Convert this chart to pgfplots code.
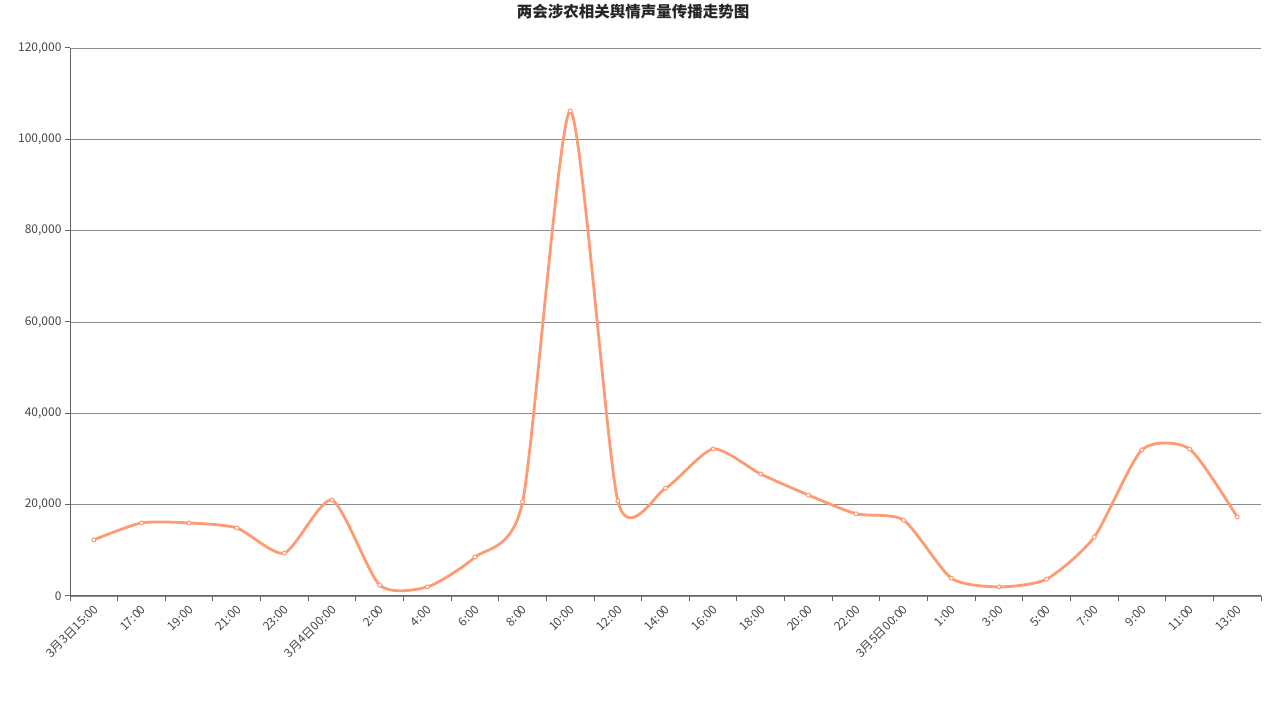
\documentclass[border=0pt]{standalone}
\usepackage{fontspec}
\setmainfont{Noto Sans CJK SC}
\usepackage{pgfplots}
\pgfplotsset{compat=1.18}
\definecolor{linec}{RGB}{255,155,115}
\definecolor{gridc}{RGB}{140,140,140}
\definecolor{axisc}{RGB}{100,100,100}
\definecolor{txt}{RGB}{70,70,70}
\begin{document}
\begin{tikzpicture}[x=1pt,y=1pt]
\useasboundingbox (0,0) rectangle (1266,711);
\node[font=\bfseries\fontsize{15.5}{18}\selectfont, text=black!85] at (633,699) {两会涉农相关舆情声量传播走势图};
\begin{axis}[
  at={(70pt,115pt)}, anchor=south west,
  scale only axis, width=1191pt, height=548pt,
  xmin=-0.5, xmax=24.5, ymin=0, ymax=120000,
  axis lines=left, axis line style={-, draw=axisc, line width=1pt},
  ytick={0,20000,40000,60000,80000,100000,120000},
  yticklabels={0,{20,000},{40,000},{60,000},{80,000},{100,000},{120,000}},
  scaled y ticks=false,
  ymajorgrids, grid style={draw=gridc, line width=0.8pt},
  xtick={0,...,24},
  xticklabels={3月3日15:00,17:00,19:00,21:00,23:00,3月4日00:00,2:00,4:00,6:00,8:00,10:00,12:00,14:00,16:00,18:00,20:00,22:00,3月5日00:00,1:00,3:00,5:00,7:00,9:00,11:00,13:00},
  minor xtick={-0.5,0.5,...,24.5},
  major x tick style={draw=none},
  minor x tick style={draw=axisc, line width=1pt},
  y tick style={draw=axisc, line width=1pt},
  tick align=outside, major tick length=5pt, minor tick length=5pt,
  xticklabel style={rotate=45, anchor=east, inner sep=0pt, xshift=-3pt, yshift=-6pt},
  ticklabel style={font=\fontsize{12}{14}\selectfont, text=txt},
  clip=false,
]
\addplot[color=linec, line width=2.8pt, smooth, tension=0.4,
  mark=*, mark size=2pt, mark options={fill=white, draw=linec, line width=1pt}]
coordinates {
(0,12300) (1,16000) (2,16000) (3,14900) (4,9400) (5,21000) (6,2400) (7,2000) (8,8500) (9,20600)
(10,106200) (11,20800) (12,23600) (13,32200) (14,26700) (15,22100) (16,18000) (17,16600)
(18,3900) (19,2000) (20,3700) (21,12900) (22,32000) (23,32200) (24,17300)
};
\end{axis}
\end{tikzpicture}
\end{document}
